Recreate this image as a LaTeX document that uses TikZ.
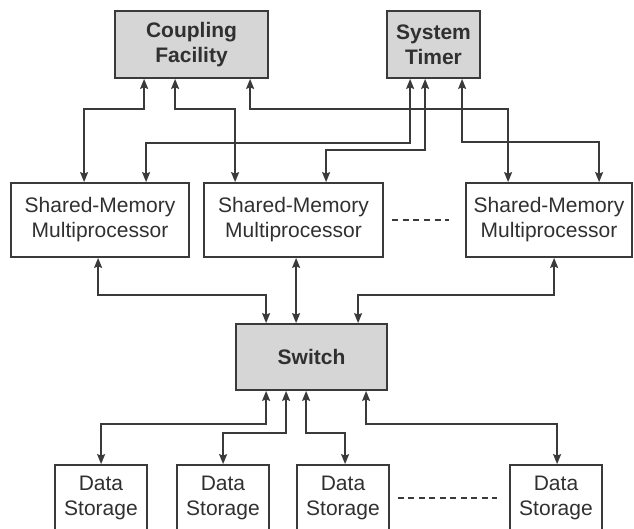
\documentclass[tikz,border=0pt]{standalone}
\usepackage{fontspec}
\setmainfont{Liberation Sans}
\usetikzlibrary{arrows.meta}
\definecolor{ln}{HTML}{3A3A3A}
\definecolor{gfill}{HTML}{D6D6D6}
\definecolor{txt}{HTML}{303030}
\begin{document}
\begin{tikzpicture}[x=1pt,y=-1pt,
  box/.style={draw=ln, line width=1.8pt, inner sep=0pt, align=center, text=txt,
    font=\fontsize{21}{25}\selectfont},
  gbox/.style={box, fill=gfill, font=\fontsize{21}{25}\selectfont\bfseries},
  conn/.style={draw=ln, line width=1.4pt, {Stealth[length=10pt,width=8pt,inset=1.5pt]}-{Stealth[length=10pt,width=8pt,inset=1.5pt]}},
  dots/.style={draw=ln, line width=1.4pt}
]
\useasboundingbox (0,0) rectangle (634,528);
\clip (0,0) rectangle (634,528);

% top boxes
\node[gbox, minimum width=153pt, minimum height=67pt] (cf) at (191.5,44.5) {Coupling\\Facility};
\node[gbox, minimum width=93pt, minimum height=67pt] (st) at (433.5,44.5) {System\\Timer};

% multiprocessors
\node[box, minimum width=178pt, minimum height=74pt] (smm1) at (100,220) {Shared-Memory\\Multiprocessor};
\node[box, minimum width=179pt, minimum height=74pt] (smm2) at (293.5,220) {Shared-Memory\\Multiprocessor};
\node[box, minimum width=166pt, minimum height=74pt] (smm3) at (549,220) {Shared-Memory\\Multiprocessor};

% switch
\node[gbox, minimum width=151pt, minimum height=66pt] (sw) at (311.5,357) {Switch};

% data storage
\node[box, minimum width=92pt, minimum height=66pt] (ds1) at (101,498) {Data\\Storage};
\node[box, minimum width=92pt, minimum height=66pt] (ds2) at (223,498) {Data\\Storage};
\node[box, minimum width=92pt, minimum height=66pt] (ds3) at (343,498) {Data\\Storage};
\node[box, minimum width=92pt, minimum height=66pt] (ds4) at (556,498) {Data\\Storage};

% coupling facility links
\draw[conn] ([xshift=30pt]cf.south west) -- ++(0,30) -| ([xshift=74pt]smm1.north west);
\draw[conn] ([xshift=61pt]cf.south west) -- ++(0,30) -| ([xshift=32pt]smm2.north west);
\draw[conn] ([xshift=136pt]cf.south west) -- ++(0,30) -| ([xshift=43pt]smm3.north west);

% system timer links
\draw[conn] ([xshift=24pt]st.south west) -- ++(0,64) -| ([xshift=136pt]smm1.north west);
\draw[conn] ([xshift=39pt]st.south west) -- ++(0,71) -| ([xshift=123pt]smm2.north west);
\draw[conn] ([xshift=76pt]st.south west) -- ++(0,63) -| ([xshift=134pt]smm3.north west);

% multiprocessors to switch
\draw[conn] ([xshift=88pt]smm1.south west) -- ++(0,37) -| ([xshift=31pt]sw.north west);
\draw[conn] ([xshift=93pt]smm2.south west) -- ([xshift=61pt]sw.north west);
\draw[conn] ([xshift=89pt]smm3.south west) -- ++(0,37) -| ([xshift=123pt]sw.north west);

% switch to data storage
\draw[conn] ([xshift=31pt]sw.south west) -- ++(0,33) -| ([xshift=47pt]ds1.north west);
\draw[conn] ([xshift=51pt]sw.south west) -- ++(0,42) -| ([xshift=47pt]ds2.north west);
\draw[conn] ([xshift=71pt]sw.south west) -- ++(0,42) -| ([xshift=49pt]ds3.north west);
\draw[conn] ([xshift=131pt]sw.south west) -- ++(0,33) -| ([xshift=48pt]ds4.north west);

% ellipses
\draw[dots, dash pattern=on 6pt off 4.7pt] ([xshift=8pt]smm2.east) -- ([xshift=-16pt]smm3.west);
\draw[dots, dash pattern=on 6pt off 4.5pt] ([xshift=8pt]ds3.east) -- ([xshift=-12pt]ds4.west);
\end{tikzpicture}
\end{document}
